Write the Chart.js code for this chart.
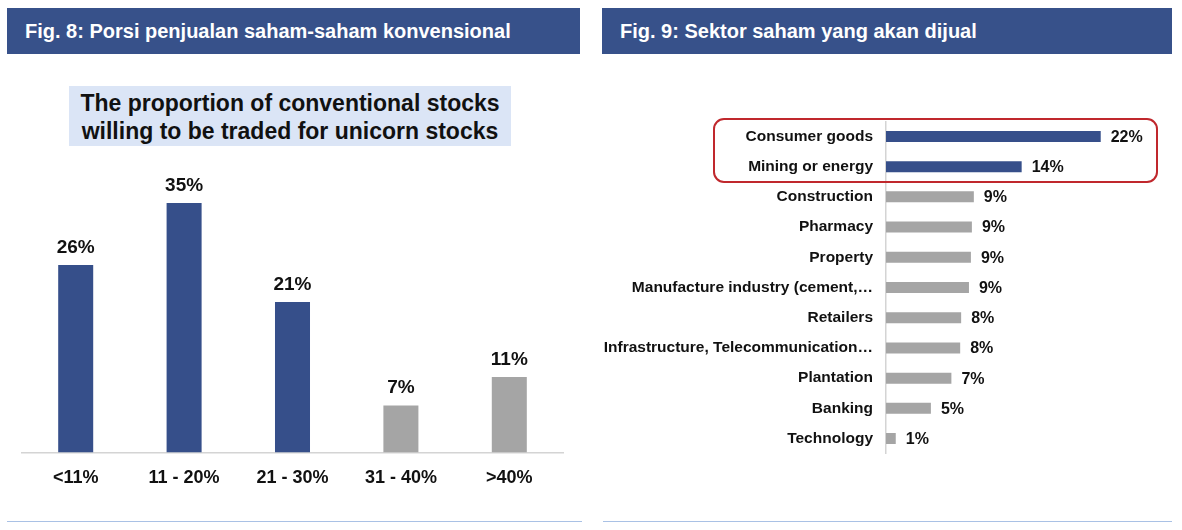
<!DOCTYPE html>
<html>
<head>
<meta charset="utf-8">
<script src="https://cdn.jsdelivr.net/npm/chart.js@4.4.1/dist/chart.umd.min.js"></script>
<style>
  html, body { margin: 0; padding: 0; background: #fff; }
  body { width: 1182px; height: 530px; position: relative; overflow: hidden; font-family: "Liberation Sans", Arial, sans-serif; }
  .hdr { position: absolute; top: 8px; height: 46px; background: #37518a; color: #fff; font-weight: bold; font-size: 20px; line-height: 46px; box-sizing: border-box; }
  .title { position: absolute; left: 69px; top: 86px; width: 442px; height: 60px; background: #dbe5f6; color: #111; font-weight: bold; font-size: 23px; line-height: 28px; text-align: center; padding-top: 3px; box-sizing: border-box; }
  .bottomline { position: absolute; top: 521px; height: 0; border-top: 1.5px solid #a9c1e5; }
  .box { position: absolute; left: 713px; top: 118px; width: 445px; height: 65px; border: 2px solid #c0282d; border-radius: 11px; box-sizing: border-box; pointer-events: none; }
  .wrap { position: absolute; }
</style>
</head>
<body>
<div class="hdr" style="left:7px; width:573px; padding-left:18px;">Fig. 8: Porsi penjualan saham-saham konvensional</div>
<div class="hdr" style="left:602px; width:570px; padding-left:18px;">Fig. 9: Sektor saham yang akan dijual</div>
<div class="title">The proportion of conventional stocks<br>willing to be traded for unicorn stocks</div>
<div class="bottomline" style="left:7px; width:575px;"></div>
<div class="bottomline" style="left:603px; width:569px;"></div>

<div class="wrap" style="left:0px; top:150px; width:590px; height:354px;"><canvas id="c1"></canvas></div>
<div class="wrap" style="left:602px; top:99px; width:580px; height:377px;"><canvas id="c2"></canvas></div>
<div class="box"></div>

<script>
// ---- Fig. 8 data ----
const fig8Categories = ["<11%", "11 - 20%", "21 - 30%", "31 - 40%", ">40%"];
const fig8Values = [26.3, 35, 21.1, 6.6, 10.6];
const fig8Colors = ["#364f8a", "#364f8a", "#364f8a", "#a5a5a5", "#a5a5a5"];

// ---- Fig. 9 data ----
const fig9Categories = ["Consumer goods", "Mining or energy", "Construction", "Pharmacy", "Property",
  "Manufacture industry (cement,\u2026", "Retailers", "Infrastructure, Telecommunication\u2026",
  "Plantation", "Banking", "Technology"];
const fig9Values = [22, 13.9, 9.0, 8.8, 8.7, 8.5, 7.7, 7.6, 6.7, 4.6, 1.0];
const fig9Colors = ["#364f8a", "#364f8a", "#a5a5a5", "#a5a5a5", "#a5a5a5", "#a5a5a5",
  "#a5a5a5", "#a5a5a5", "#a5a5a5", "#a5a5a5", "#a5a5a5"];

const FONT = "'Liberation Sans', Arial, sans-serif";
Chart.defaults.font.family = FONT;
Chart.defaults.color = "#111";
Chart.defaults.animation = false;

const valueLabels = {
  id: "valueLabels",
  afterDatasetsDraw(chart, args, opts) {
    const ctx = chart.ctx;
    const ds = chart.data.datasets[0];
    const meta = chart.getDatasetMeta(0);
    ctx.save();
    ctx.fillStyle = "#111";
    ctx.font = "bold " + opts.size + "px " + FONT;
    meta.data.forEach((el, i) => {
      const txt = Math.round(ds.data[i]) + "%";
      if (opts.horizontal) {
        ctx.textAlign = "left";
        ctx.textBaseline = "middle";
        ctx.fillText(txt, el.x + opts.gap, el.y + 1);
      } else {
        ctx.textAlign = "center";
        ctx.textBaseline = "alphabetic";
        ctx.fillText(txt, el.x, el.y - opts.gap);
      }
    });
    ctx.restore();
  }
};

new Chart(document.getElementById("c1"), {
  type: "bar",
  data: {
    labels: fig8Categories,
    datasets: [{ data: fig8Values, backgroundColor: fig8Colors, borderWidth: 0,
      categoryPercentage: 1, barPercentage: 0.323 }]
  },
  options: {
    responsive: true, maintainAspectRatio: false,
    layout: { padding: { left: 21.5, right: 26.5, top: 17.4, bottom: 0 } },
    plugins: { legend: { display: false }, tooltip: { enabled: false },
      valueLabels: { size: 19, gap: 12, horizontal: false } },
    scales: {
      x: {
        grid: { display: false, drawTicks: false },
        border: { display: true, color: "#d4d4d4", width: 1.5 },
        ticks: { font: { size: 18, weight: "bold" }, color: "#111", padding: 15 }
      },
      y: { display: false, min: 0, max: 40 }
    }
  },
  plugins: [valueLabels]
});

new Chart(document.getElementById("c2"), {
  type: "bar",
  data: {
    labels: fig9Categories,
    datasets: [{ data: fig9Values, backgroundColor: fig9Colors, borderWidth: 0,
      categoryPercentage: 1, barPercentage: 0.364 }]
  },
  options: {
    indexAxis: "y",
    responsive: true, maintainAspectRatio: false,
    layout: { padding: { left: 0, right: 52, top: 10, bottom: 7 } },
    plugins: { legend: { display: false }, tooltip: { enabled: false },
      valueLabels: { size: 16, gap: 10, horizontal: true } },
    scales: {
      x: { display: false, min: 0, max: 25 },
      y: {
        grid: { display: false, drawTicks: false },
        border: { display: true, color: "#d4d4d4", width: 1.5 },
        ticks: { font: { size: 15.5, weight: "bold" }, color: "#111", padding: 13, autoSkip: false },
        afterFit: (scale) => { scale.width = 284; }
      }
    }
  },
  plugins: [valueLabels]
});
</script>
</body>
</html>
